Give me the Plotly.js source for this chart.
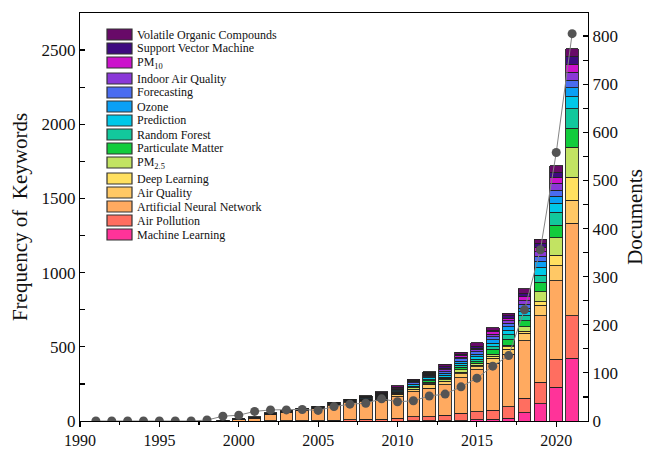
<!DOCTYPE html>
<html>
<head>
<meta charset="utf-8">
<script src="https://cdn.plot.ly/plotly-3.0.1.min.js"></script>
<style>html,body{margin:0;padding:0;background:#fff;}#chart{width:653px;height:450px;}</style>
</head>
<body>
<div id="chart"></div>
<script>
const years = [1991,1992,1993,1994,1995,1996,1997,1998,1999,2000,2001,2002,2003,2004,2005,2006,2007,2008,2009,2010,2011,2012,2013,2014,2015,2016,2017,2018,2019,2020,2021];

const machineLearning   = [0,0,0,0,0,0,0,0, 0,0,0,0,0,0,0,0,0,0,0,0,1,1,2,3,8,11,18,56,115,227,423];
const airPollution      = [0,0,0,0,0,0,0,0, 0,0,0,1,1,2,3,4,9,11,11,18,28,28,38,49,55,63,78,97,146,189,287];
const annSeries         = [0,0,0,0,0,0,0,0, 4,10,20,42,58,70,80,100,114,119,126,146,168,191,203,240,281,315,355,388,449,530,622];
const airQuality        = [0,0,0,0,0,0,0,0, 0,1,1,2,3,3,4,6,6,8,11,15,17,29,23,25,22,33,34,50,70,99,157];
const deepLearning      = [0,0,0,0,0,0,0,0, 0,0,0,0,0,0,0,0,0,0,0,1,1,2,3,13,11,16,14,15,24,72,153];
const pm25              = [0,0,0,0,0,0,0,0, 0,0,0,0,0,0,1,1,1,2,4,6,8,10,9,14,12,13,13,29,67,118,202];
const particulateMatter = [0,0,0,0,0,0,0,0, 0,0,0,1,1,1,1,2,2,4,5,8,7,9,10,20,11,32,39,41,64,86,130];
const randomForest      = [0,0,0,0,0,0,0,0, 0,0,0,0,0,0,0,0,0,1,2,4,5,8,6,13,16,18,29,34,49,85,131];
const prediction        = [0,0,0,0,0,0,0,0, 1,2,2,3,3,3,3,4,5,6,8,6,8,12,14,12,17,23,33,27,52,61,80];
const ozone             = [0,0,0,0,0,0,0,0, 0,0,2,2,2,2,2,3,3,6,8,5,6,8,13,15,16,22,22,24,42,49,61];
const forecasting       = [0,0,0,0,0,0,0,0, 0,1,1,2,2,2,2,2,3,3,5,6,8,10,12,14,18,22,23,25,34,41,52];
const indoorAirQuality  = [0,0,0,0,0,0,0,0, 0,0,0,0,1,1,1,1,1,2,3,4,6,7,11,11,16,16,18,23,29,45,54];
const pm10              = [0,0,0,0,0,0,0,0, 0,0,0,0,0,1,1,1,1,2,5,5,6,6,12,12,7,18,16,29,29,40,52];
const svm               = [0,0,0,0,0,0,0,0, 0,0,0,0,0,0,0,1,1,2,4,5,5,6,11,10,15,11,16,22,27,36,51];
const voc               = [0,0,0,0,0,0,0,0, 0,1,1,1,1,1,1,1,2,3,5,7,7,5,15,12,23,16,18,32,27,42,54];

const documents = [0,0,0,0,0,0,0,2,10,12,20,23,23,24,22,30,35,37,46,40,42,52,56,71,89,114,136,231,356,558,805];

const seriesNames = ["Machine Learning","Air Pollution","Artificial Neural Network","Air Quality","Deep Learning","PM<sub>2.5</sub>","Particulate Matter","Random Forest","Prediction","Ozone","Forecasting","Indoor Air Quality","PM<sub>10</sub>","Support Vector Machine","Volatile Organic Compounds"];
const seriesValues = [machineLearning,airPollution,annSeries,airQuality,deepLearning,pm25,particulateMatter,randomForest,prediction,ozone,forecasting,indoorAirQuality,pm10,svm,voc];
const seriesColors = ["#ff3399","#ff6e60","#ffaa60","#ffc865","#ffe060","#c2e362","#12cc3c","#12c89c","#00c8e8","#0aa0f5","#4a6cf0","#8a38d8","#cc12cc","#3e0a80","#680a68"];

const FONT = "Liberation Serif, Times New Roman, serif";
const W = 653, H = 450, ML = 80, MR = 65, MT = 13, MB = 29;
const PW = W - ML - MR, PH = H - MT - MB;

const traces = seriesNames.map((n,i)=>({
  type:'bar', name:n, x:years, y:seriesValues[i],
  marker:{color:seriesColors[i], line:{color:'#222', width:0.9}},
  hoverinfo:'name+y', showlegend:false
}));
traces.push({
  type:'scatter', mode:'lines+markers', name:'Documents', x:years, y:documents, yaxis:'y2',
  line:{color:'#858585', width:1}, marker:{color:'#545454', size:9}, showlegend:false
});

// Legend built from the series names / colours (top entry = last series)
const shapes = [], annotations = [];
let topPx = 29;
for (let k = seriesNames.length - 1; k >= 0; k--) {
  const x0 = (107 - ML) / PW, x1 = (132 - ML) / PW;
  const y0 = (H - MB - (topPx + 11)) / PH, y1 = (H - MB - topPx) / PH;
  shapes.push({type:'rect', xref:'paper', yref:'paper', x0:x0, x1:x1, y0:y0, y1:y1,
               fillcolor:seriesColors[k], line:{color:'#333', width:1.2}});
  annotations.push({xref:'paper', yref:'paper', x:(135 - ML) / PW, y:(y0 + y1) / 2,
                    xanchor:'left', yanchor:'middle', showarrow:false, text:seriesNames[k],
                    font:{family:FONT, size:12, color:'#111'}});
  topPx += seriesNames[k].indexOf('<sub>') >= 0 ? 16 : 14;
}

const layout = {
  width:W, height:H,
  margin:{l:ML, r:MR, t:MT, b:MB},
  barmode:'stack', bargap:0.2,
  paper_bgcolor:'#fff', plot_bgcolor:'#fff',
  font:{family:FONT, color:'#111', size:17},
  showlegend:false,
  shapes:shapes, annotations:annotations,
  xaxis:{range:[1990,2022], tick0:1990, dtick:5, ticks:'outside', ticklen:5, tickwidth:1.2, tickcolor:'#000',
         minor:{dtick:2.5, ticks:'outside', ticklen:3, tickcolor:'#000'},
         showline:true, linecolor:'#000', linewidth:1.2, mirror:true, showgrid:false, zeroline:false,
         tickfont:{family:FONT, size:16, color:'#111'}},
  yaxis:{range:[0,2750], dtick:500, ticks:'inside', ticklen:5, tickwidth:1.2, tickcolor:'#000',
         minor:{dtick:250, ticks:'inside', ticklen:5, tickcolor:'#000'},
         showline:true, linecolor:'#000', linewidth:1.2, showgrid:false, zeroline:false,
         tickfont:{family:FONT, size:17, color:'#111'},
         title:{text:'Frequency of  Keywords', font:{family:FONT, size:21, color:'#111'}, standoff:8}},
  yaxis2:{range:[0,848], dtick:100, overlaying:'y', side:'right', ticks:'inside', ticklen:5, tickwidth:1.2, tickcolor:'#000',
          minor:{dtick:50, ticks:'inside', ticklen:5, tickcolor:'#000'},
          showline:true, linecolor:'#000', linewidth:1.2, showgrid:false, zeroline:false,
          tickfont:{family:FONT, size:17, color:'#111'},
          title:{text:'Documents', font:{family:FONT, size:21, color:'#111'}, standoff:10}}
};

Plotly.newPlot('chart', traces, layout, {staticPlot:true, displayModeBar:false});
</script>
</body>
</html>
